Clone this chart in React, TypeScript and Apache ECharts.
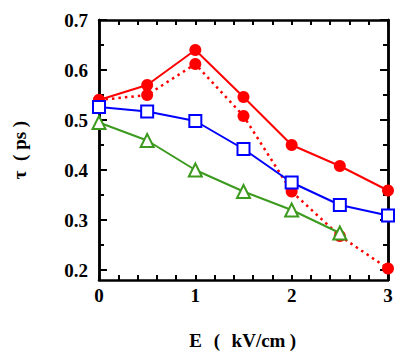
import React, { useEffect, useRef } from "react";
import * as echarts from "echarts";

const xValues = [0, 0.5, 1, 1.5, 2, 2.5, 3];
const redSolid = [0.54, 0.57, 0.64, 0.546, 0.45, 0.408, 0.359];
const redDotted = [0.54, 0.55, 0.612, 0.508, 0.357, 0.268, 0.203];
const blueSquares = [0.526, 0.517, 0.498, 0.442, 0.375, 0.33, 0.309];
const greenTriangles = [0.495, 0.459, 0.4, 0.357, 0.32, 0.274];

const xLabels = [0, 1, 2, 3];
const xTicks = [0, 0.2, 0.4, 0.6, 0.8, 1, 1.2, 1.4, 1.6, 1.8, 2, 2.2, 2.4, 2.6, 2.8, 3];
const yLabels = [0.2, 0.3, 0.4, 0.5, 0.6, 0.7];
const yMinorTicks = [0.2, 0.25, 0.3, 0.35, 0.4, 0.45, 0.5, 0.55, 0.6, 0.65, 0.7];

const xTitleParts = ["E", "(", "kV/cm", ")"];
const yTitle = "τ  ( ps )";

const FONT = "Liberation Serif, DejaVu Serif, serif";

const pairs = (ys: number[]) => ys.map((y, i) => [xValues[i], y]);

export default function App() {
  const ref = useRef<HTMLDivElement>(null);
  useEffect(() => {
    if (!ref.current) return;
    const chart = echarts.init(ref.current, undefined, { renderer: "svg" });
    const baseX = {
      type: "value" as const,
      min: 0,
      max: 3,
      splitLine: { show: false },
      axisLine: { show: true, lineStyle: { color: "#000", width: 2.5 } },
    };
    const baseY = {
      type: "value" as const,
      min: 0.18,
      max: 0.7,
      splitLine: { show: false },
      axisLine: { show: true, lineStyle: { color: "#000", width: 2.5 } },
    };
    const titleX = [195.5, 217, 258.5, 293];
    const titleStyle = {
      fontFamily: FONT,
      fontWeight: "bold",
      fontSize: 19,
      fill: "#000",
      align: "center",
      verticalAlign: "middle",
    };
    chart.setOption({
      animation: false,
      backgroundColor: "#fff",
      grid: { left: 99, right: 21, top: 20, bottom: 74, containLabel: false },
      graphic: [
        ...xTitleParts.map((t, i) => ({
          type: "text",
          x: titleX[i],
          y: 340,
          style: { ...titleStyle, text: t },
        })),
        {
          type: "text",
          x: 19,
          y: 150,
          rotation: Math.PI / 2,
          style: { ...titleStyle, text: yTitle },
        },
      ],
      xAxis: [
        {
          ...baseX,
          position: "bottom",
          axisTick: { show: true, inside: true, length: 5, customValues: xTicks, lineStyle: { color: "#000", width: 2 } },
          axisLabel: {
            show: true,
            customValues: xLabels,
            margin: 6,
            fontFamily: FONT,
            fontWeight: "bold",
            fontSize: 19,
            color: "#000",
            formatter: (v: number) => String(v),
          },
        },
        {
          ...baseX,
          position: "top",
          axisTick: { show: true, inside: true, length: 5, customValues: xTicks, lineStyle: { color: "#000", width: 2 } },
          axisLabel: { show: false },
        },
      ],
      yAxis: [
        {
          ...baseY,
          position: "left",
          axisTick: { show: true, inside: true, length: 8, customValues: yLabels, lineStyle: { color: "#000", width: 2 } },
          axisLabel: {
            show: true,
            customValues: yLabels,
            margin: 11,
            fontFamily: FONT,
            fontWeight: "bold",
            fontSize: 19,
            color: "#000",
            formatter: (v: number) => v.toFixed(1),
          },
        },
        {
          ...baseY,
          position: "left",
          axisTick: { show: true, inside: true, length: 5, customValues: yMinorTicks, lineStyle: { color: "#000", width: 2 } },
          axisLabel: { show: false },
        },
        {
          ...baseY,
          position: "right",
          axisTick: { show: true, inside: true, length: 8, customValues: yLabels, lineStyle: { color: "#000", width: 2 } },
          axisLabel: { show: false },
        },
        {
          ...baseY,
          position: "right",
          axisTick: { show: true, inside: true, length: 5, customValues: yMinorTicks, lineStyle: { color: "#000", width: 2 } },
          axisLabel: { show: false },
        },
      ],
      series: [
        {
          type: "line",
          data: pairs(redSolid),
          symbol: "circle",
          symbolSize: 12,
          lineStyle: { color: "#ff0000", width: 2 },
          itemStyle: { color: "#ff0000" },
        },
        {
          type: "line",
          data: pairs(redDotted),
          symbol: "circle",
          symbolSize: 12,
          lineStyle: { color: "#ff0000", width: 2.5, type: [2.5, 4] },
          itemStyle: { color: "#ff0000" },
        },
        {
          type: "line",
          data: pairs(blueSquares),
          symbol: "emptyRect",
          symbolSize: 12,
          lineStyle: { color: "#0000ff", width: 2 },
          itemStyle: { color: "#0000ff", borderColor: "#0000ff", borderWidth: 2 },
        },
        {
          type: "line",
          data: pairs(greenTriangles),
          symbol: "emptyTriangle",
          symbolSize: 13,
          lineStyle: { color: "#3c9a1e", width: 2 },
          itemStyle: { color: "#3c9a1e", borderColor: "#3c9a1e", borderWidth: 2 },
        },
      ],
    });
    return () => chart.dispose();
  }, []);
  return (
    <div
      ref={ref}
      style={{ position: "fixed", left: 0, top: 0, width: 409, height: 354 }}
    />
  );
}
